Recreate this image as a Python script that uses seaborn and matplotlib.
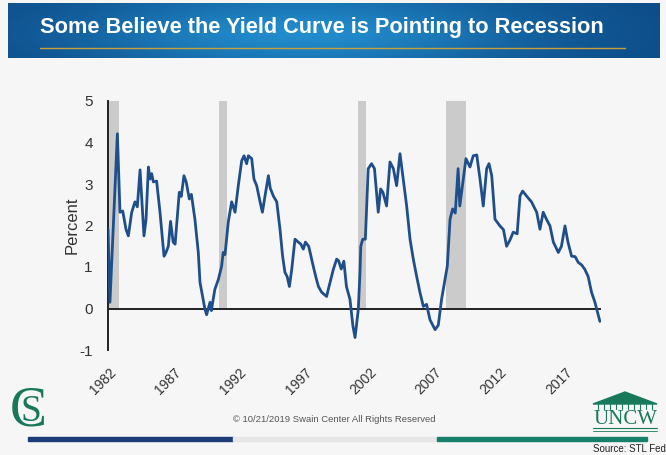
import numpy as np
import pandas as pd
import matplotlib
matplotlib.use("Agg")
import matplotlib.pyplot as plt
import matplotlib.transforms as mtransforms
from matplotlib.patches import Rectangle, Polygon
import seaborn as sns

# ---------------- data ----------------
dates = [1982.00, 1982.15, 1982.72, 1982.92, 1983.13, 1983.38, 1983.56, 1983.82,
         1984.07, 1984.25, 1984.46, 1984.76, 1984.92, 1985.10, 1985.22, 1985.35,
         1985.48, 1985.73, 1985.99, 1986.30, 1986.45, 1986.63, 1986.80, 1987.00,
         1987.15, 1987.47, 1987.62, 1987.83, 1988.00, 1988.24, 1988.40, 1988.67,
         1988.93, 1989.06, 1989.44, 1989.57, 1989.83, 1989.93, 1990.20, 1990.47,
         1990.72, 1990.84, 1990.98, 1991.23, 1991.49, 1991.75, 1992.00, 1992.26,
         1992.44, 1992.64, 1992.77, 1993.03, 1993.20, 1993.41, 1993.67, 1993.85,
         1994.05, 1994.31, 1994.45, 1994.69, 1994.95, 1995.20, 1995.40, 1995.58,
         1995.75, 1995.92, 1996.10, 1996.35, 1996.60, 1996.80, 1996.99, 1997.15,
         1997.40, 1997.55, 1997.75, 1998.00, 1998.15, 1998.40, 1998.78, 1998.90,
         1999.29, 1999.55, 1999.70, 1999.90, 2000.10, 2000.30, 2000.57, 2000.80,
         2000.96, 2001.21, 2001.34, 2001.40, 2001.55, 2001.75, 2001.97, 2002.23,
         2002.45, 2002.74, 2002.92, 2003.10, 2003.38, 2003.64, 2003.90, 2004.15,
         2004.41, 2004.66, 2004.92, 2005.18, 2005.43, 2005.69, 2005.94, 2006.20,
         2006.45, 2006.71, 2007.10, 2007.35, 2007.60, 2007.86, 2008.04, 2008.25,
         2008.45, 2008.65, 2008.87, 2009.00, 2009.20, 2009.47, 2009.78, 2010.03,
         2010.30, 2010.55, 2010.80, 2011.06, 2011.24, 2011.45, 2011.70, 2012.08,
         2012.35, 2012.59, 2012.85, 2013.10, 2013.40, 2013.62, 2013.82, 2014.15,
         2014.50, 2014.90, 2015.15, 2015.40, 2015.65, 2015.92, 2016.18, 2016.56,
         2016.80, 2017.07, 2017.30, 2017.58, 2017.85, 2018.09, 2018.35, 2018.60,
         2018.85, 2019.11, 2019.37, 2019.62, 2019.75]
spread = [1.91, 0.15, 4.21, 2.32, 2.35, 1.91, 1.75, 2.32,
          2.57, 2.45, 3.34, 1.75, 2.15, 3.41, 3.12, 3.25,
          3.05, 3.07, 2.32, 1.26, 1.35, 1.50, 2.10, 1.60,
          1.55, 2.80, 2.70, 3.20, 3.05, 2.64, 2.75, 2.15,
          1.35, 0.63, -0.02, -0.15, 0.15, -0.05, 0.46, 0.70,
          1.02, 1.35, 1.30, 2.08, 2.57, 2.32, 2.96, 3.56,
          3.68, 3.49, 3.68, 3.61, 3.12, 2.96, 2.57, 2.32,
          2.71, 3.20, 2.90, 2.71, 2.57, 1.91, 1.26, 0.87,
          0.77, 0.53, 0.94, 1.67, 1.60, 1.55, 1.43, 1.60,
          1.50, 1.30, 1.02, 0.70, 0.53, 0.39, 0.29, 0.45,
          0.94, 1.19, 1.15, 0.95, 1.14, 0.53, 0.22, -0.43,
          -0.70, -0.02, 0.87, 1.50, 1.67, 1.67, 3.37, 3.49,
          3.37, 2.32, 2.88, 2.80, 2.47, 3.53, 3.37, 2.96,
          3.73, 3.12, 2.47, 1.67, 1.19, 0.77, 0.39, 0.05,
          0.10, -0.27, -0.51, -0.40, 0.22, 0.70, 1.02, 2.15,
          2.40, 2.30, 3.37, 2.47, 2.96, 3.61, 3.41, 3.68,
          3.70, 3.12, 2.47, 3.37, 3.49, 3.20, 2.15, 1.99,
          1.90, 1.50, 1.65, 1.84, 1.80, 2.71, 2.83, 2.70,
          2.57, 2.32, 1.91, 2.32, 2.15, 1.99, 1.60, 1.35,
          1.50, 1.99, 1.60, 1.26, 1.25, 1.11, 1.05, 0.94,
          0.77, 0.39, 0.15, -0.15, -0.31]

rec_start = [1981.50, 1990.50, 2001.17, 2007.92]
rec_end = [1982.87, 1991.17, 2001.83, 2009.50]

year_ticks = [1982, 1987, 1992, 1997, 2002, 2007, 2012, 2017]
year_labels = ["1982", "1987", "1992", "1997", "2002", "2007", "2012", "2017"]
y_ticks = [-1, 0, 1, 2, 3, 4, 5]

title = "Some Believe the Yield Curve is Pointing to Recession"
copyright_txt = "\u00a9 10/21/2019 Swain Center All Rights Reserved"
source_txt = "Source: STL Fed"

# ---------------- style ----------------
sns.set_theme(style="white")
plt.rcParams["font.family"] = ["Liberation Sans", "DejaVu Sans"]

W, H = 666, 455
fig = plt.figure(figsize=(W / 100, H / 100), dpi=100)
bg = "#f6f6f6"
fig.patch.set_facecolor(bg)

# decoration layer in pixel coordinates
deco = fig.add_axes([0, 0, 1, 1], zorder=0)
deco.set_xlim(0, W)
deco.set_ylim(H, 0)
deco.axis("off")

# title banner gradient
nx = 400
xs = np.linspace(0, 1, nx)
light = np.exp(-((xs - 0.45) / 0.35) ** 2)
c_dark = np.array([0x0c, 0x4a, 0x86]) / 255
c_light = np.array([0x22, 0x8c, 0xcc]) / 255
ny = 40
ys = np.linspace(0, 1, ny)
vert = np.exp(-((ys - 0.55) / 0.45) ** 2)
grad = np.zeros((ny, nx, 3))
for i in range(ny):
    f = (light * (0.55 + 0.45 * vert[i]))[:, None]
    grad[i] = c_dark * (1 - f) + c_light * f
deco.imshow(grad, extent=(8, 660, 58, 3), aspect="auto", zorder=1)
deco.plot([40, 625], [48, 48], color="#c9a13c", lw=1.0, zorder=2)
deco.text(322, 28, title, color="white", fontsize=15.7, fontweight="bold",
          ha="center", va="center", zorder=3)

# footer: CS logo
green = "#17795a"
deco.text(28, 411, "C", family=["Liberation Serif", "DejaVu Serif"], fontsize=40,
          color=green, ha="center", va="center", zorder=3)
deco.text(31, 412, "S", family=["Liberation Serif", "DejaVu Serif"], fontsize=27,
          color=green, ha="center", va="center", zorder=3)

# copyright
deco.text(334, 420, copyright_txt, fontsize=6.8, color="#555555",
          ha="center", va="center", zorder=3)

# footer bars
deco.add_patch(Rectangle((28, 437), 205, 4, color="#1c3c7a", zorder=2))
deco.add_patch(Rectangle((233, 437), 204, 4, color="#e6e6e6", zorder=2))
deco.add_patch(Rectangle((437, 437), 210, 4, color="#17806a", zorder=2))

# UNCW logo
deco.add_patch(Polygon([[593, 404], [625, 392], [657, 404]], closed=True,
                       color=green, zorder=2))
for xx in np.linspace(598, 652, 10):
    deco.plot([xx, xx], [404, 409], color=green, lw=0.8, zorder=2)
deco.text(625, 419, "UNCW", family=["Liberation Serif", "DejaVu Serif"],
          fontsize=15, color=green, ha="center", va="center", zorder=3)
deco.plot([593, 657], [428, 428], color=green, lw=0.8, zorder=2)
deco.plot([593, 657], [430.5, 430.5], color=green, lw=0.6, zorder=2)
deco.text(666, 449, source_txt, fontsize=7, color="#222222",
          ha="right", va="center", zorder=3)

# ---------------- main chart ----------------
x0, x1 = 1982.0, 2019.8
px_per_year = 13.03
left_px, bottom_px, top_px = 108, 350, 101
ax = fig.add_axes([left_px / W, (H - bottom_px) / H,
                   (x1 - x0) * px_per_year / W, (bottom_px - top_px) / H], zorder=1)
ax.set_facecolor(bg)
ax.patch.set_alpha(0)

for s, e in zip(rec_start, rec_end):
    ax.axvspan(s, e, ymin=1 / 6, ymax=1, color="#c4c4c4", alpha=0.85, lw=0, zorder=1)

df = pd.DataFrame({"date": dates, "spread": spread})
sns.lineplot(data=df, x="date", y="spread", ax=ax, color="#1f4f8b",
             linewidth=2.0, estimator=None, sort=False, zorder=3)
ax.axhline(0, color="#222222", lw=1.4, zorder=2)

ax.set_xlim(x0, x1)
ax.set_ylim(-1, 5)
ax.set_yticks(y_ticks)
ax.set_yticklabels([str(v) for v in y_ticks])
ax.set_xticks(year_ticks)
ax.set_xticklabels(year_labels)
ax.tick_params(axis="y", length=0, pad=11, labelsize=11, labelcolor="#333333")
ax.tick_params(axis="x", length=0, pad=11, labelsize=10, labelcolor="#333333")
offset = mtransforms.ScaledTranslation(1 / 100, 0, fig.dpi_scale_trans)
for lab in ax.get_xticklabels():
    lab.set_rotation(45)
    lab.set_ha("right")
    lab.set_rotation_mode("anchor")
    lab.set_transform(lab.get_transform() + offset)

ax.set_xlabel("")
ax.set_ylabel("Percent", fontsize=12, color="#333333", labelpad=0)
for sp in ["top", "right", "bottom"]:
    ax.spines[sp].set_visible(False)
ax.spines["left"].set_color("#222222")
ax.spines["left"].set_linewidth(1.4)
ax.grid(False)

fig.savefig("out.png", dpi=100, facecolor=fig.get_facecolor())
